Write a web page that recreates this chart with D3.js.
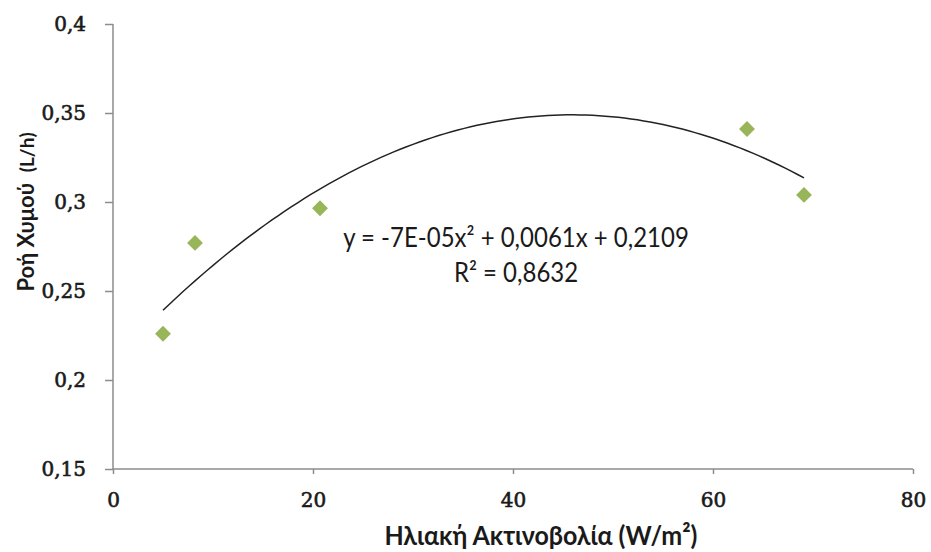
<!DOCTYPE html>
<html><head><meta charset="utf-8">
<script src="https://cdn.jsdelivr.net/npm/d3@7"></script>
<style>body{margin:0;background:#fff}svg{display:block}</style>
</head><body>
<script>
// Data
const radiation = [5.0, 8.2, 20.7, 63.4, 69.1];
const sapFlow = [0.226, 0.277, 0.2965, 0.341, 0.304];
const xTicks = [0, 20, 40, 60, 80];
const yTicks = [0.15, 0.2, 0.25, 0.3, 0.35, 0.4];
const equationText = "y = -7E-05x\u00B2 + 0,0061x + 0,2109";
const r2Text = "R\u00B2 = 0,8632";
const xTitle = "Ηλιακή Ακτινοβολία (W/m\u00B2)";
const yTitleMain = "Ροή Χυμού";
const yTitleUnit = "(L/h)";

const W = 931, H = 552;
const m = {left: 113, top: 24, right: 18, bottom: 83};
const svg = d3.select("body").append("svg").attr("width", W).attr("height", H);
const x = d3.scaleLinear().domain([0, 80]).range([m.left, W - m.right]);
const y = d3.scaleLinear().domain([0.15, 0.4]).range([H - m.bottom, m.top]);
const fmt = d => d3.format(".2~f")(d).replace(".", ",");

const axisColor = "#8c8c8c";
const tickFont = "'DejaVu Serif', serif";
const gy = svg.append("g").attr("transform", `translate(${m.left},0)`)
  .call(d3.axisLeft(y).tickValues(yTicks).tickFormat(fmt).tickSize(8).tickPadding(19));
const gx = svg.append("g").attr("transform", `translate(0,${H - m.bottom})`)
  .call(d3.axisBottom(x).tickValues(xTicks).tickFormat(d3.format("d")).tickSize(5).tickPadding(19));
[gx, gy].forEach(g => {
  g.select(".domain").attr("stroke", axisColor).attr("stroke-width", 1.5);
  g.selectAll(".tick line").attr("stroke", axisColor).attr("stroke-width", 1.5);
  g.selectAll(".tick text").attr("fill", "#1a1a1a").attr("stroke", "#1a1a1a").attr("stroke-width", 0.6)
    .style("font-family", tickFont).style("font-size", "20px");
});
gy.select(".domain").attr("d", `M0,${y(0.4)}V${y(0.15)}`);
gx.select(".domain").attr("d", `M${x(0)},0H${x(80)}`);

// Quadratic least squares trendline fitted to the data
function quadFit(xs, ys) {
  const S = Array.from({length: 5}, (_, k) => d3.sum(xs, v => Math.pow(v, k)));
  const T = Array.from({length: 3}, (_, k) => d3.sum(xs, (v, i) => Math.pow(v, k) * ys[i]));
  const A = [[S[0], S[1], S[2], T[0]], [S[1], S[2], S[3], T[1]], [S[2], S[3], S[4], T[2]]];
  for (let i = 0; i < 3; i++) {
    for (let j = i + 1; j < 3; j++) {
      const f = A[j][i] / A[i][i];
      for (let k = i; k < 4; k++) A[j][k] -= f * A[i][k];
    }
  }
  const c = [0, 0, 0];
  for (let i = 2; i >= 0; i--) {
    let s = A[i][3];
    for (let k = i + 1; k < 3; k++) s -= A[i][k] * c[k];
    c[i] = s / A[i][i];
  }
  return c;
}
const c = quadFit(radiation, sapFlow);
const xs = d3.range(0, 101).map(i => d3.min(radiation) + (d3.max(radiation) - d3.min(radiation)) * i / 100);
svg.append("path")
  .attr("d", d3.line().x(d => x(d)).y(d => y(c[0] + c[1] * d + c[2] * d * d))(xs))
  .attr("fill", "none").attr("stroke", "#222").attr("stroke-width", 1.5);

// markers
svg.selectAll(".pt").data(radiation).enter().append("path")
  .attr("d", d3.symbol(d3.symbolDiamond2, 160)())
  .attr("transform", (d, i) => `translate(${x(d)},${y(sapFlow[i])})`)
  .attr("fill", "#98b55a");

// equation labels
const sans = "Lato, 'Open Sans', sans-serif";
function stretchedText(tx, ty, size, str) {
  return svg.append("text").attr("transform", `translate(${tx},${ty}) scale(1,1.12)`)
    .attr("text-anchor", "middle").style("font-family", sans).style("font-size", size + "px")
    .attr("fill", "#1a1a1a").text(str);
}
stretchedText(516, 247, 24, equationText);
stretchedText(516, 282, 24, r2Text);

// axis titles
svg.append("text").attr("transform", "translate(541,545) scale(1,1.08)").attr("text-anchor", "middle")
  .style("font-family", sans).style("font-size", "25px").style("font-weight", "bold").attr("fill", "#1a1a1a")
  .text(xTitle);
const yt = svg.append("text").attr("transform", "translate(34,212) rotate(-90)").attr("text-anchor", "middle")
  .style("font-family", sans).style("font-weight", "bold").attr("fill", "#1a1a1a");
yt.append("tspan").style("font-size", "22px").text(yTitleMain + "\u00A0\u00A0");
yt.append("tspan").style("font-size", "19px").text(yTitleUnit);
</script>
</body></html>
